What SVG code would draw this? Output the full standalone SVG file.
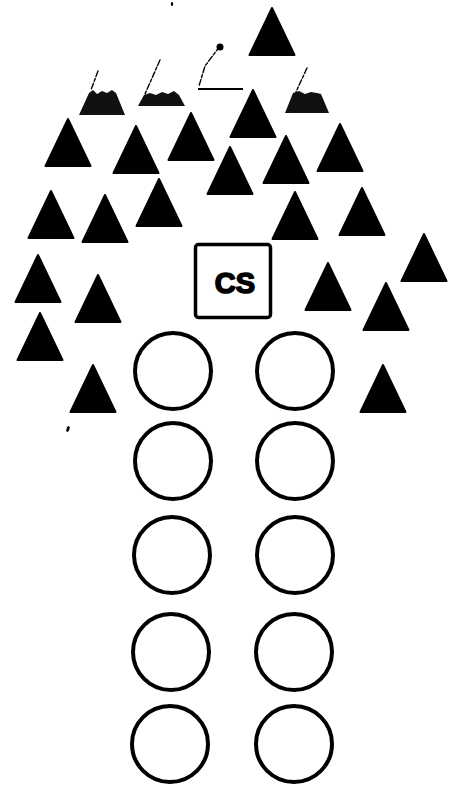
<svg xmlns="http://www.w3.org/2000/svg" xmlns:xlink="http://www.w3.org/1999/xlink" width="449" height="798" viewBox="0 0 449 798">
  <style>
    .tri { fill: #000; stroke: #000; stroke-width: 2; stroke-linejoin: round; }
    .ring { fill: none; stroke: #000; stroke-width: 4; }
    .faint { fill: #111; }
    .edge { fill: none; stroke: #000; stroke-width: 1.4; stroke-linecap: round; stroke-dasharray: 6 2 3 2; }
    .box { fill: #fff; stroke: #000; stroke-width: 3.5; }
    .label { font-family: "Liberation Sans", Arial, sans-serif; font-weight: bold; font-size: 29px; fill: #000; stroke: #000; stroke-width: 1.6; stroke-linejoin: round; }
  </style>
  <defs>
    <!-- solid marker triangle, apex at origin -->
    <path id="tri" class="tri" d="M0,0 L-22.5,47 L22.5,47 Z"/>
  </defs>
  <rect width="449" height="798" fill="#fff"/>

  <!-- solid triangles -->
  <g id="triangles">
    <use xlink:href="#tri" x="272" y="8"/>
    <use xlink:href="#tri" x="68" y="119"/>
    <use xlink:href="#tri" x="136" y="126"/>
    <use xlink:href="#tri" x="191" y="113"/>
    <use xlink:href="#tri" x="253" y="90"/>
    <use xlink:href="#tri" x="230" y="147"/>
    <use xlink:href="#tri" x="286" y="136"/>
    <use xlink:href="#tri" x="340" y="124"/>
    <use xlink:href="#tri" x="51" y="191"/>
    <use xlink:href="#tri" x="105" y="195"/>
    <use xlink:href="#tri" x="159" y="179"/>
    <use xlink:href="#tri" x="295" y="192"/>
    <use xlink:href="#tri" x="362" y="188"/>
    <use xlink:href="#tri" x="38" y="255"/>
    <use xlink:href="#tri" x="98" y="275"/>
    <use xlink:href="#tri" x="40" y="313"/>
    <use xlink:href="#tri" x="93" y="365"/>
    <use xlink:href="#tri" x="328" y="263"/>
    <use xlink:href="#tri" x="424" y="234"/>
    <use xlink:href="#tri" x="386" y="283"/>
    <use xlink:href="#tri" x="383" y="365"/>
  </g>

  <!-- partly printed triangles -->
  <g id="faded-triangles">
    <path class="faint" d="M89,93 L93,90 L97,94 L102,91 L107,93 L112,90 L116,93 L125,115 L79,115 Z"/>
    <path class="edge" d="M98,71 L91,90"/>
    <path class="faint" d="M144,95 L150,93 L156,95 L162,92 L168,94 L174,91 L179,95 L185,106 L138,106 Z"/>
    <path class="edge" d="M160,60 L145,94"/>
    <path class="edge" d="M220,46 L205,66 L199,86"/>
    <circle cx="220" cy="47" r="3.5" fill="#000"/>
    <path d="M198,89 L243,89" stroke="#000" stroke-width="2.2"/>
    <path class="faint" d="M293,93 L299,91 L305,94 L311,92 L317,93 L321,94 L329,113 L285,113 Z"/>
    <path class="edge" d="M307,68 L296,92"/>
  </g>

  <!-- command post box -->
  <g id="cs">
    <rect class="box" x="195.5" y="244.5" width="75" height="73" rx="3"/>
    <text class="label" x="235" y="293" text-anchor="middle">CS</text>
  </g>

  <!-- two columns of circles -->
  <g id="circles">
    <circle class="ring" cx="173" cy="371" r="38"/>
    <circle class="ring" cx="295" cy="371" r="38"/>
    <circle class="ring" cx="173" cy="461" r="38"/>
    <circle class="ring" cx="295" cy="461" r="38"/>
    <circle class="ring" cx="172" cy="555" r="38"/>
    <circle class="ring" cx="295" cy="555" r="38"/>
    <circle class="ring" cx="171" cy="652" r="38"/>
    <circle class="ring" cx="294" cy="652" r="38"/>
    <circle class="ring" cx="170" cy="744" r="38"/>
    <circle class="ring" cx="294" cy="744" r="38"/>
  </g>

  <!-- stray specks -->
  <g id="specks">
    <ellipse cx="172" cy="4" rx="1.2" ry="2" fill="#000"/>
    <ellipse cx="68" cy="429" rx="1.5" ry="3" fill="#000" transform="rotate(20 68 429)"/>
  </g>
</svg>
